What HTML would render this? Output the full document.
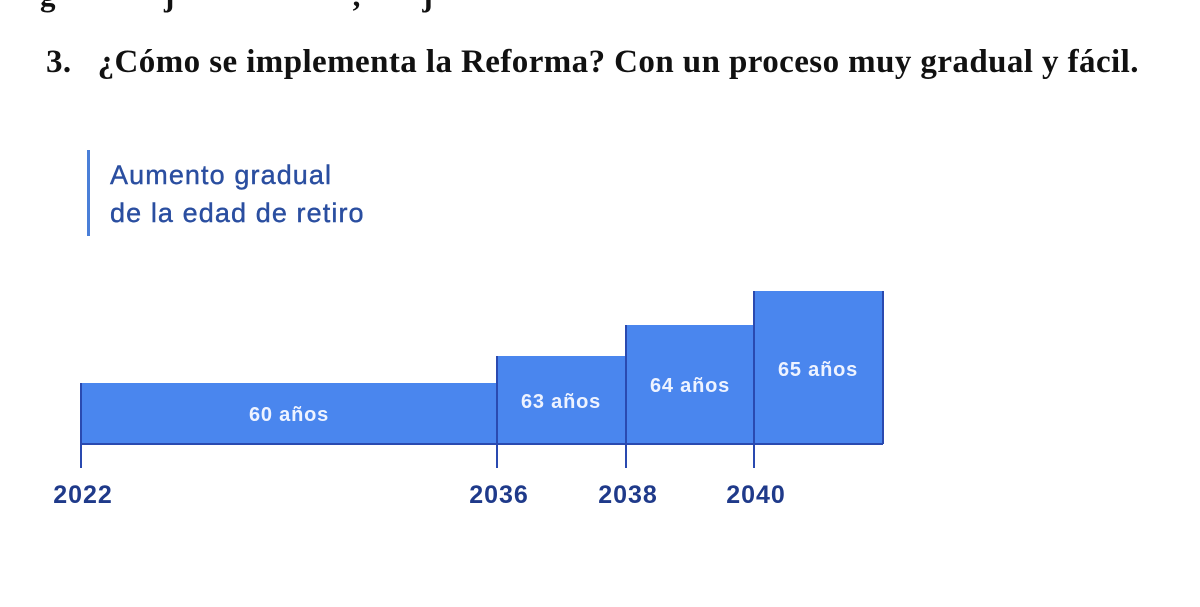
<!DOCTYPE html>
<html><head><meta charset="utf-8"><style>
body{margin:0;width:1200px;height:607px;background:#fff;position:relative;overflow:hidden;font-family:"Liberation Sans",sans-serif}
.t{position:absolute;white-space:nowrap}
</style></head><body>
<div class="t" style="left:40px;top:-22px;font:bold 31px 'Liberation Serif',serif;color:#111">g&nbsp;&nbsp;&nbsp;&nbsp;&nbsp;&nbsp;&nbsp;&nbsp;&nbsp;&nbsp;&nbsp;&nbsp;&nbsp;&nbsp;j&nbsp;&nbsp;&nbsp;&nbsp;&nbsp;&nbsp;&nbsp;&nbsp;&nbsp;&nbsp;&nbsp;&nbsp;&nbsp;&nbsp;&nbsp;&nbsp;&nbsp;&nbsp;&nbsp;&nbsp;&nbsp;&nbsp;&nbsp;,&nbsp;&nbsp;&nbsp;&nbsp;&nbsp;&nbsp;&nbsp;&nbsp;j</div>
<div class="t" style="left:46px;top:44px;font:bold 33px 'Liberation Serif',serif;letter-spacing:0.42px;color:#111">3.&nbsp;&nbsp; ¿Cómo se implementa la Reforma? Con un proceso muy gradual y fácil.</div>
<div style="position:absolute;left:87px;top:150px;width:3px;height:86px;background:#4a7fd8"></div>
<div class="t" style="left:110px;top:156px;font-size:27px;line-height:38px;letter-spacing:1.1px;color:#2a4ea0;-webkit-text-stroke:0.4px #2a4ea0">Aumento gradual<br>de la edad de retiro</div>
<svg width="1200" height="607" style="position:absolute;left:0;top:0">
<g fill="#4a86ee">
<rect x="81" y="383" width="416" height="61"/>
<rect x="497" y="356" width="129" height="88"/>
<rect x="626" y="325" width="128" height="119"/>
<rect x="754" y="291" width="129" height="153"/>
</g>
<g stroke="#2a4ab0" stroke-width="2">
<line x1="81" y1="444" x2="883" y2="444"/>
<line x1="81" y1="383" x2="81" y2="468"/>
<line x1="497" y1="356" x2="497" y2="468"/>
<line x1="626" y1="325" x2="626" y2="468"/>
<line x1="754" y1="291" x2="754" y2="468"/>
<line x1="883" y1="291" x2="883" y2="444"/>
</g>
<g fill="#eef3ff" font-family="Liberation Sans" font-weight="bold" font-size="20" letter-spacing="0.8" text-anchor="middle">
<text x="289" y="421">60 años</text>
<text x="561" y="408">63 años</text>
<text x="690" y="392">64 años</text>
<text x="818" y="376">65 años</text>
</g>
<g fill="#1f3a8a" font-family="Liberation Sans" font-weight="bold" font-size="25" letter-spacing="1" text-anchor="middle">
<text x="83" y="503">2022</text>
<text x="499" y="503">2036</text>
<text x="628" y="503">2038</text>
<text x="756" y="503">2040</text>
</g>
</svg>
</body></html>
